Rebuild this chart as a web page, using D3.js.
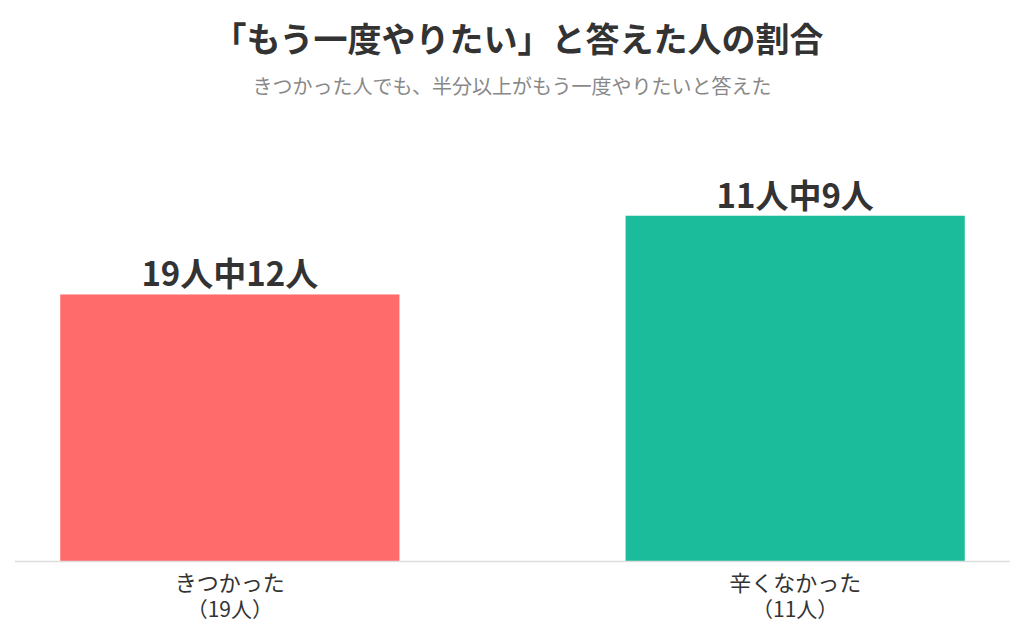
<!DOCTYPE html>
<html><head><meta charset="utf-8">
<script src="https://cdn.jsdelivr.net/npm/d3@7"></script>
<style>body{margin:0;background:#fff}</style>
</head><body>
<svg id="c" width="1024" height="640"></svg>
<script>
const categories = ["きつかった", "辛くなかった"];
const categoryTotals = ["（19人）", "（11人）"];
const totals = [19, 11];
const yesCounts = [12, 9];
const valueLabels = ["19人中12人", "11人中9人"];
const colors = ["#FF6B6B", "#1ABC9C"];

const svg = d3.select("#c");
const font = "'Noto Sans CJK JP', 'Noto Sans', sans-serif";
const x = d3.scaleBand().domain(categories).range([15, 1010]).paddingInner(0.4).paddingOuter(0.08);
const y = d3.scaleLinear().domain([0, 1]).range([561, 139]);
const ratios = yesCounts.map((v, i) => v / totals[i]);

svg.append("text").attr("x", 518).attr("y", 52).attr("text-anchor", "middle")
  .attr("font-family", font).attr("font-weight", "bold").attr("font-size", 34).attr("fill", "#333")
  .text("「もう一度やりたい」と答えた人の割合");
svg.append("text").attr("x", 512).attr("y", 94).attr("text-anchor", "middle")
  .attr("font-family", font).attr("font-size", 20).attr("fill", "#888")
  .text("きつかった人でも、半分以上がもう一度やりたいと答えた");

svg.selectAll("rect.bar").data(categories).join("rect")
  .attr("x", d => x(d)).attr("width", x.bandwidth())
  .attr("y", (d, i) => y(ratios[i])).attr("height", (d, i) => y(0) - y(ratios[i]))
  .attr("fill", (d, i) => colors[i]);

svg.append("line").attr("x1", 15).attr("x2", 1010).attr("y1", 561.5).attr("y2", 561.5)
  .attr("stroke", "#ddd").attr("stroke-width", 1.5);

svg.selectAll("text.val").data(categories).join("text")
  .attr("x", d => x(d) + x.bandwidth() / 2).attr("y", (d, i) => y(ratios[i]) - 8)
  .attr("text-anchor", "middle").attr("font-family", font).attr("font-weight", "bold")
  .attr("font-size", 33).attr("fill", "#333").text((d, i) => valueLabels[i]);

svg.selectAll("text.cat").data(categories).join("text")
  .attr("x", d => x(d) + x.bandwidth() / 2).attr("y", 591)
  .attr("text-anchor", "middle").attr("font-family", font).attr("font-size", 22).attr("fill", "#333")
  .text(d => d);
svg.selectAll("text.tot").data(categories).join("text")
  .attr("x", d => x(d) + x.bandwidth() / 2).attr("y", 617)
  .attr("text-anchor", "middle").attr("font-family", font).attr("font-size", 21).attr("fill", "#333")
  .text((d, i) => categoryTotals[i]);
</script>
</body></html>
